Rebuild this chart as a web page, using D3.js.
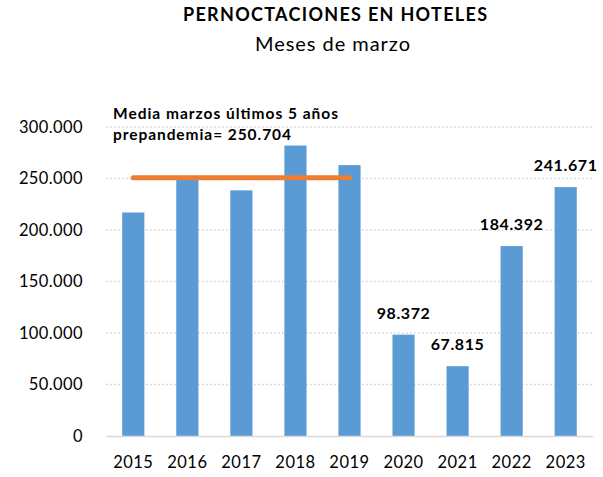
<!DOCTYPE html>
<html>
<head>
<meta charset="utf-8">
<script src="https://cdn.jsdelivr.net/npm/d3@7"></script>
<style>
  body { margin: 0; background: #fff; }
  text { font-family: Lato, "Open Sans", sans-serif; }
</style>
</head>
<body>
<div id="chart"></div>
<script>
// Data
const years = ["2015", "2016", "2017", "2018", "2019", "2020", "2021", "2022", "2023"];
const values = [217000, 252000, 238500, 282000, 263000, 98372, 67815, 184392, 241671];
const labelled = ["2020", "2021", "2022", "2023"];
const meanValue = 250704;
const meanYears = ["2015", "2019"];
const yTicks = [0, 50000, 100000, 150000, 200000, 250000, 300000];

const width = 603, height = 477;
const margin = { top: 127, right: 10, bottom: 41, left: 106 };

const svg = d3.select("#chart").append("svg")
    .attr("width", width)
    .attr("height", height);

const x = d3.scaleBand()
    .domain(years)
    .range([margin.left, width - margin.right])
    .paddingInner(0.59)
    .paddingOuter(0.3);

const y = d3.scaleLinear()
    .domain([0, 300000])
    .range([height - margin.bottom, margin.top]);

const fmt = v => v === 0 ? "0" : d3.format(",")(v).replace(/,/g, ".");

// grid lines (dotted)
svg.append("g")
    .selectAll("line")
    .data(yTicks.filter(d => d > 0))
    .join("line")
    .attr("x1", margin.left)
    .attr("x2", width - margin.right)
    .attr("y1", d => y(d))
    .attr("y2", d => y(d))
    .attr("stroke", "#d0d0d0")
    .attr("stroke-width", 1.3)
    .attr("stroke-dasharray", "1.5,2.5");

// y axis labels
const yAxis = svg.append("g")
    .attr("transform", `translate(${margin.left},0)`)
    .call(d3.axisLeft(y).tickValues(yTicks).tickFormat(fmt).tickSize(0).tickPadding(23));
yAxis.select(".domain").remove();
yAxis.selectAll("text")
    .attr("font-size", 16.5)
    .attr("fill", "#000")
    .style("letter-spacing", "0.4px")
    .style("font-family", "Lato, 'Open Sans', sans-serif");

// bars
svg.selectAll("rect.bar")
    .data(values)
    .join("rect")
    .attr("class", "bar")
    .attr("x", (d, i) => x(years[i]))
    .attr("y", d => y(d))
    .attr("width", x.bandwidth())
    .attr("height", d => y(0) - y(d))
    .attr("fill", "#5b9bd5");

// x axis
const xAxis = svg.append("g")
    .attr("transform", `translate(0,${y(0)})`)
    .call(d3.axisBottom(x).tickSize(0).tickPadding(20));
xAxis.select(".domain")
    .attr("stroke", "#d9d9d9")
    .attr("stroke-width", 1.3);
xAxis.selectAll("text")
    .attr("font-size", 16.5)
    .attr("fill", "#000")
    .style("letter-spacing", "0.5px")
    .style("font-family", "Lato, 'Open Sans', sans-serif");

// value labels
svg.selectAll("text.vlabel")
    .data(values.map((v, i) => ({ year: years[i], v })).filter(d => labelled.includes(d.year)))
    .join("text")
    .attr("class", "vlabel")
    .attr("x", d => x(d.year) + x.bandwidth() / 2)
    .attr("y", d => y(d.v) - 16)
    .attr("text-anchor", "middle")
    .attr("font-size", 16)
    .attr("font-weight", "bold")
    .style("letter-spacing", "0.6px")
    .text(d => fmt(d.v));

// mean line
svg.append("line")
    .attr("x1", x(meanYears[0]) + x.bandwidth() / 2)
    .attr("x2", x(meanYears[1]) + x.bandwidth() / 2)
    .attr("y1", y(meanValue))
    .attr("y2", y(meanValue))
    .attr("stroke", "#ed7d31")
    .attr("stroke-width", 5)
    .attr("stroke-linecap", "round");

// annotation
const note = svg.append("g")
    .attr("font-size", 15.5)
    .attr("font-weight", "bold");
note.append("text").attr("x", 113).attr("y", 119)
    .attr("textLength", 225).attr("lengthAdjust", "spacing")
    .text("Media marzos últimos 5 años");
note.append("text").attr("x", 113).attr("y", 140)
    .attr("textLength", 178).attr("lengthAdjust", "spacing")
    .text("prepandemia= " + fmt(meanValue));

// titles
svg.append("text")
    .attr("x", 183)
    .attr("y", 21)
    .attr("font-size", 18)
    .attr("font-weight", "bold")
    .attr("textLength", 304)
    .attr("lengthAdjust", "spacing")
    .text("PERNOCTACIONES EN HOTELES");

svg.append("text")
    .attr("x", 255)
    .attr("y", 51)
    .attr("font-size", 20)
    .attr("textLength", 155)
    .attr("lengthAdjust", "spacing")
    .text("Meses de marzo");
</script>
</body>
</html>
